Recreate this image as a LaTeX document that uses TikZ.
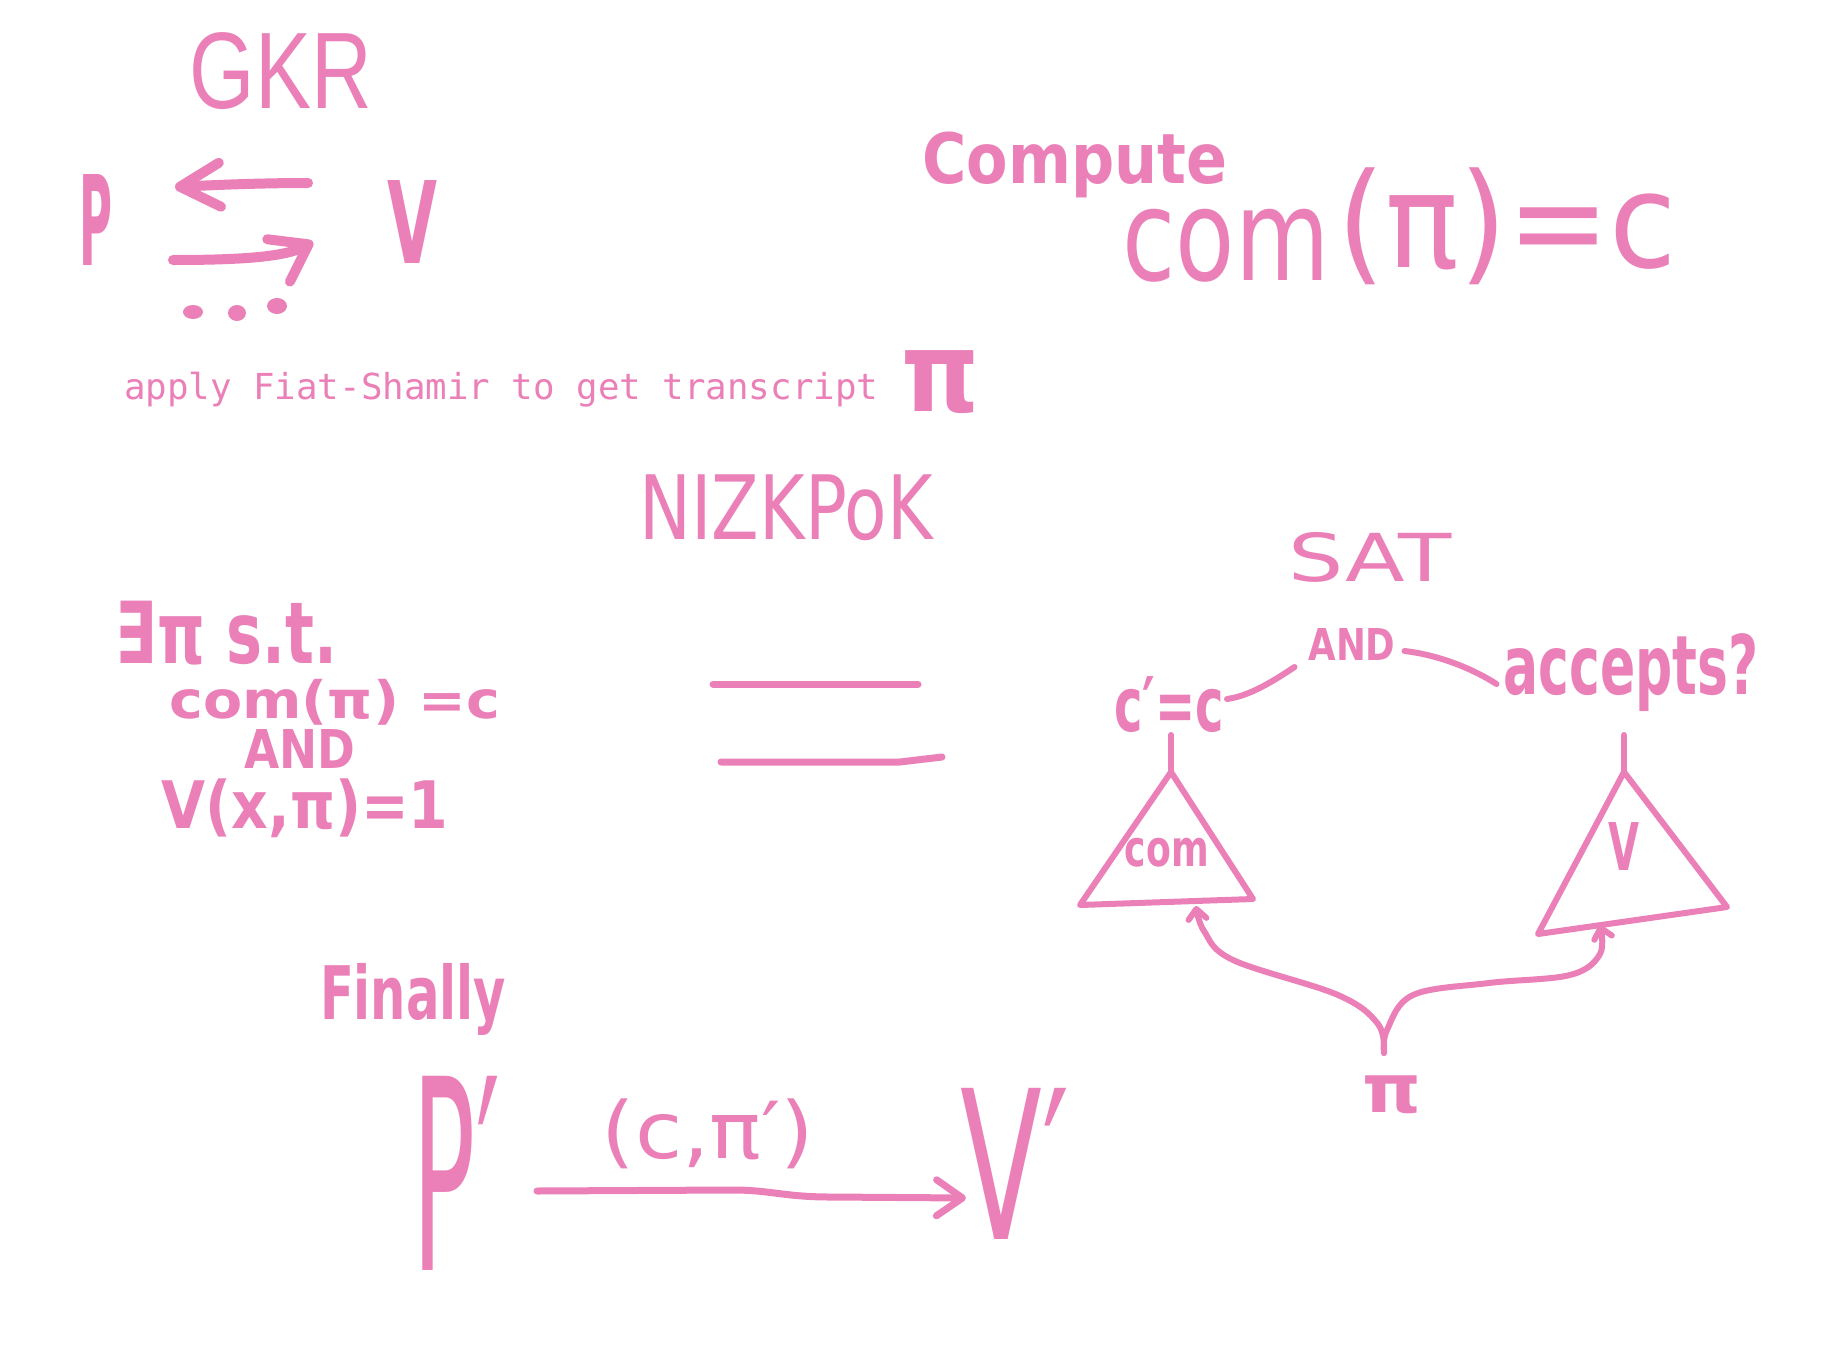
\documentclass[tikz,border=0pt]{standalone}
\usepackage{fontspec}
\usepackage{graphicx}
\setmainfont{DejaVu Sans}
\newfontfamily\gkrfont{Liberation Sans}
\newfontfamily\fsmono{DejaVu Sans Mono}
\usetikzlibrary{arrows.meta,calc}
\definecolor{pk}{RGB}{235,128,184}
\newcommand{\hwbox}[3]{\resizebox*{#1pt}{#2pt}{#3}}
\begin{document}
\begin{tikzpicture}[x=1pt,y=-1pt,
  lbl/.style={inner sep=0pt,outer sep=0pt,text=pk},
  ink/.style={draw=pk,line width=#1,line cap=round,line join=round},
  ink/.default=7pt]
\fill[white] (0,0) rectangle (1824,1368);
\useasboundingbox (0,0) rectangle (1824,1368);

% ---- GKR ----
\node[lbl] (gkr) at (281,71.5) {\hwbox{182}{77}{\gkrfont GKR}};
\node[lbl] (gP) at (96.5,219.5) {\hwbox{33}{91}{\bfseries P}};
\node[lbl] (gV) at (412,221.5) {\hwbox{50}{83}{\bfseries V}};
\coordinate (uR) at ($(gV.west)+(-79,-38.5)$);
\coordinate (uL) at ($(gP.east)+(62,-32.5)$);
\draw[ink=10pt,-{Straight Barb[length=40pt,width=44pt,round]}] (uR) .. controls (260,183) and (215,185) .. (uL);
\coordinate (lL) at ($(gP.east)+(60,40.5)$);
\coordinate (lR) at ($(gV.west)+(-74,20.5)$);
\draw[ink=10pt,-{Straight Barb[length=34pt,width=48pt,round]}] (lL) .. controls (240,260) and (285,257) .. (lR);
\fill[pk] (193,312) ellipse [x radius=10pt, y radius=7pt];
\fill[pk] (237,313) ellipse [x radius=9pt, y radius=8pt];
\fill[pk] (277,306) ellipse [x radius=10pt, y radius=8pt];

% ---- Fiat-Shamir ----
\node[lbl,anchor=base west] (fs) at (124,399) {\fsmono\fontsize{35.8pt}{40pt}\selectfont apply Fiat-Shamir to get transcript};
\node[lbl] (pi1) at (941,382) {\hwbox{78}{63}{\bfseries π}};

% ---- Compute ----
\node[lbl] (comp) at (1075,165) {\hwbox{305}{66}{\bfseries Compute}};
\node[lbl] (comw) at (1226,245.5) {\hwbox{207}{73}{com}};
\node[lbl] (comarg) at (1507.5,226.5) {\hwbox{339}{117}{(π)=c}};

% ---- NIZKPoK ----
\node[lbl] (nizk) at (786,508) {\hwbox{293}{66}{NIZKPoK}};
\draw[ink] (713,684) -- (918,684);
\draw[ink] (721,762) -- (900,762) -- (942,757);

% ---- left statement ----
\node[lbl] (ex) at (226.5,633) {\hwbox{221}{64}{\bfseries ∃π s.t.}};
\node[lbl] (c1) at (335,702) {\hwbox{331}{46}{\bfseries com(π) =c}};
\node[lbl] (and1) at (300,749) {\hwbox{111}{39}{\bfseries AND}};
\node[lbl] (v1) at (305,808) {\hwbox{287}{59}{\bfseries V(x,π)=1}};

% ---- SAT circuit ----
\node[lbl] (sat) at (1370,557) {\hwbox{163}{50}{SAT}};
\node[lbl] (and2) at (1352,644) {\hwbox{87}{32}{\bfseries AND}};
\node[lbl] (cc) at (1169,705) {\hwbox{110}{56}{\bfseries c′=c}};
\node[lbl] (acc) at (1631,673) {\hwbox{255}{78}{\bfseries accepts?}};
\draw[ink=6pt] ($(cc.east)+(3,-6)$) .. controls (1250,696) and (1275,680) .. ($(and2.west)+(-14,23)$);
\draw[ink=6pt] ($(and2.east)+(9,7)$) .. controls (1440,655) and (1475,670) .. ($(acc.west)+(-7,11)$);

\coordinate (tlA) at (1171,772);
\coordinate (tlB) at (1080,905);
\coordinate (tlC) at (1253,899);
\coordinate (trA) at (1624,772);
\coordinate (trB) at (1538,934);
\coordinate (trC) at (1727,907);
\draw[ink=6pt] (tlA) -- (tlB) -- (tlC) -- cycle;
\draw[ink=6pt] (trA) -- (trB) -- (trC) -- cycle;
\draw[ink=6pt] ($(cc.south)+(2,2)$) -- (tlA);
\draw[ink=6pt] ($(acc.south)+(-7,23)$) -- (trA);
\node[lbl] (comlbl) at (1167,853) {\hwbox{84}{29}{\bfseries com}};
\node[lbl] (vlbl) at (1624,846) {\hwbox{31}{48}{\bfseries V}};

\node[lbl] (pi3) at (1392,1095) {\hwbox{59}{38}{\bfseries π}};
\coordinate (fork) at ($(pi3.north)+(-8,-23)$);
\coordinate (inL) at (1196,906);
\coordinate (inR) at (1600,925);
\draw[ink=6pt,-{Straight Barb[length=10pt,width=18pt,round]}] plot[smooth,tension=0.6] coordinates {(fork) (1378,1024) (1338,995) (1233,960) (1204,931) (inL)};
\draw[ink=6pt,-{Straight Barb[length=10pt,width=18pt,round]}] plot[smooth,tension=0.6] coordinates {(fork) (1387,1030) (1413,995) (1489,983) (1570,975) (1600,954) (inR)};

% ---- Finally ----
\node[lbl] (fin) at (413,999) {\hwbox{186}{72}{\bfseries Finally}};
\node[lbl] (P2) at (456.5,1173) {\hwbox{87}{194}{P′}};
\node[lbl] (msg) at (708,1134) {\hwbox{213}{70}{(c,π′)}};
\node[lbl] (V2) at (1015.5,1163.5) {\hwbox{109}{151}{V′}};
\coordinate (a0) at ($(P2.east)+(37,18)$);
\coordinate (a1) at ($(V2.west)+(5,34.5)$);
\draw[ink=7pt,-{Straight Barb[length=26pt,width=36pt,round]}] (a0) -- (733,1190) .. controls (770,1190) and (785,1197) .. (830,1197) -- (a1);
\end{tikzpicture}
\end{document}
